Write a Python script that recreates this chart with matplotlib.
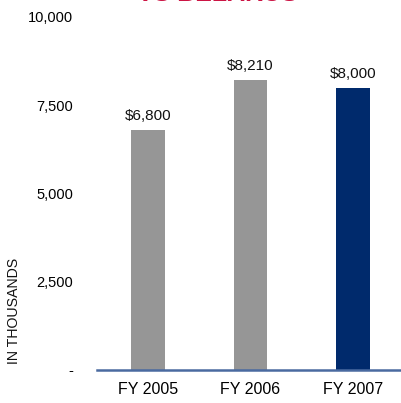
import matplotlib
matplotlib.use("Agg")
import matplotlib.pyplot as plt
from matplotlib.ticker import FixedLocator, FuncFormatter

# Chart data
years = ["FY 2005", "FY 2006", "FY 2007"]
values = [6800, 8210, 8000]
bar_colors = ["#969696", "#969696", "#002a6c"]
y_ticks = [0, 2500, 5000, 7500, 10000]

plt.rcParams["font.family"] = ["Liberation Sans", "DejaVu Sans"]

fig = plt.figure(figsize=(4.01, 4.03), dpi=100)
ax = fig.add_axes([0.242, 0.082, 0.758, 0.876])

x = list(range(len(years)))
bars = ax.bar(x, values, width=0.33, color=bar_colors, zorder=2)

# value labels above bars
for rect, v in zip(bars, values):
    ax.annotate(f"${v:,.0f}", (rect.get_x() + rect.get_width() / 2, v),
                xytext=(0, 5), textcoords="offset points",
                ha="center", va="bottom", fontsize=11, color="#111111")

ax.set_xlim(-0.5, 2.47)
ax.set_ylim(0, 10000)
ax.set_xticks(x)
ax.set_xticklabels(years, fontsize=11.5)
ax.yaxis.set_major_locator(FixedLocator(y_ticks))
ax.yaxis.set_major_formatter(FuncFormatter(lambda v, p: "-" if v == 0 else f"{v:,.0f}"))
ax.tick_params(axis="y", length=0, pad=17, labelsize=10.5)
ax.tick_params(axis="x", length=0, pad=9)

for side in ["top", "right", "left"]:
    ax.spines[side].set_visible(False)
ax.spines["bottom"].set_color("#4a6aa0")
ax.spines["bottom"].set_linewidth(1.8)

fig.text(0.035, 1 - 311 / 403, "IN THOUSANDS", rotation=90, ha="center", va="center",
         fontsize=10.2, color="#111111")

# title, cropped by the top edge of the picture
fig.text(217 / 401, 1 - 1 / 403, "VS BELARUS", ha="center", va="baseline",
         fontsize=18, fontweight="bold", color="#cc1444")

fig.savefig("out.png", dpi=100)
